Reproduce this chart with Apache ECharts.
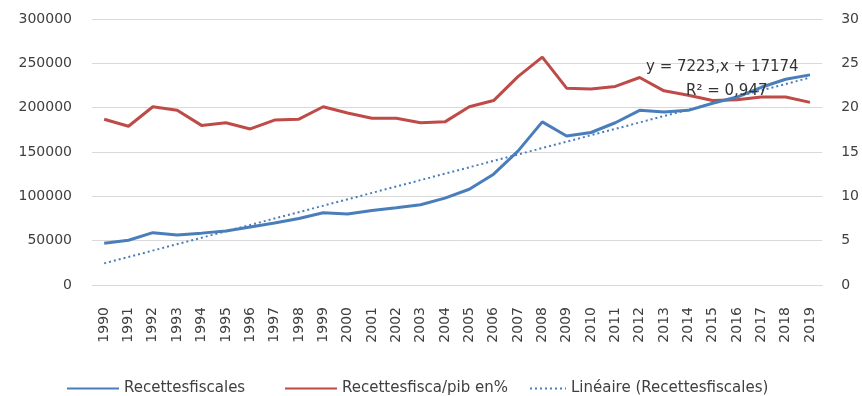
<!DOCTYPE html>
<html>
<head>
<meta charset="UTF-8">
<script src="https://cdn.jsdelivr.net/npm/echarts@6/dist/echarts.min.js"></script>
<style>
html, body { margin: 0; padding: 0; background: #fff; }
#main { width: 862px; height: 396px; }
</style>
</head>
<body>
<div id="main"></div>
<script>
// années
var years = ['1990','1991','1992','1993','1994','1995','1996','1997','1998','1999',
	'2000','2001','2002','2003','2004','2005','2006','2007','2008','2009',
	'2010','2011','2012','2013','2014','2015','2016','2017','2018','2019'];
// Recettesfiscales (axe gauche)
var recettes = [47000, 50500, 59000, 56500, 58500, 61000, 65500, 70000, 75000, 81500,
	80000, 84000, 87000, 90500, 98000, 108000, 125000, 151000, 184000, 168000,
	172000, 183000, 197000, 195000, 197000, 205000, 212000, 223000, 232000, 237000];
// Recettesfisca/pib en% (axe droit)
var pibPct = [18.7, 17.9, 20.1, 19.7, 18.0, 18.3, 17.6, 18.6, 18.7, 20.1,
	19.4, 18.8, 18.8, 18.3, 18.4, 20.1, 20.8, 23.5, 25.7, 22.2,
	22.1, 22.4, 23.4, 21.9, 21.4, 20.8, 20.9, 21.2, 21.2, 20.6];
// tendance linéaire : points de début et de fin
var trendPoints = [['1990', 24400], ['2019', 233900]];
var leftTicks = { min: 0, max: 300000, interval: 50000 };
var rightTicks = { min: 0, max: 30, interval: 5 };
var eqText = 'y = 7223,x + 17174';
var r2Text = 'R² = 0,947';

var font = 'DejaVu Sans';
var txt = '#404040';
var chart = echarts.init(document.getElementById('main'));
var legendText = { fontSize: 15, color: txt, fontFamily: font };
var option = {
	animation: false,
	textStyle: { fontFamily: font },
	grid: { left: 92, right: 33, top: 19, bottom: 111 },
	legend: [
		{ data: ['Recettesfiscales'], left: 61, top: 376, itemWidth: 52, itemHeight: 14,
			itemStyle: { opacity: 0 }, textStyle: legendText },
		{ data: ['Recettesfisca/pib en%'], left: 279, top: 376, itemWidth: 52, itemHeight: 14,
			itemStyle: { opacity: 0 }, textStyle: legendText },
		{ data: ['Linéaire (Recettesfiscales)'], left: 524, top: 376, itemWidth: 36, itemHeight: 14,
			itemStyle: { opacity: 0 }, textStyle: legendText }
	],
	xAxis: {
		type: 'category',
		data: years,
		boundaryGap: true,
		axisLine: { lineStyle: { color: '#d9d9d9' } },
		axisTick: { show: false },
		axisLabel: { rotate: 90, margin: 22, fontSize: 14, color: txt, fontFamily: font, interval: 0 }
	},
	yAxis: [
		{
			type: 'value', min: leftTicks.min, max: leftTicks.max, interval: leftTicks.interval,
			axisLine: { show: false }, axisTick: { show: false },
			splitLine: { lineStyle: { color: '#d9d9d9' } },
			axisLabel: { margin: 20, fontSize: 14, color: txt, fontFamily: font,
				formatter: function (v) { return String(v); } }
		},
		{
			type: 'value', min: rightTicks.min, max: rightTicks.max, interval: rightTicks.interval,
			axisLine: { show: false }, axisTick: { show: false },
			splitLine: { show: false },
			axisLabel: { margin: 19, fontSize: 14, color: txt, fontFamily: font,
				formatter: function (v) { return String(v); } }
		}
	],
	series: [
		{
			name: 'Recettesfiscales', type: 'line', data: recettes, yAxisIndex: 0,
			symbol: 'none', lineStyle: { color: '#4a7ebb', width: 3 }, itemStyle: { color: '#4a7ebb' }, z: 3
		},
		{
			name: 'Recettesfisca/pib en%', type: 'line', data: pibPct, yAxisIndex: 1,
			symbol: 'none', lineStyle: { color: '#be4b48', width: 3 }, itemStyle: { color: '#be4b48' }, z: 2
		},
		{
			name: 'Linéaire (Recettesfiscales)', type: 'line', data: trendPoints, yAxisIndex: 0,
			symbol: 'none', lineStyle: { color: '#4a7ebb', width: 2, type: [2, 3] }, itemStyle: { color: '#4a7ebb' }, z: 4
		}
	],
	graphic: [
		{ type: 'text', left: 646, top: 60, z: 10,
			style: { text: eqText, font: '15px ' + font, fill: '#333' } },
		{ type: 'text', left: 686, top: 84, z: 10,
			style: { text: r2Text, font: '15px ' + font, fill: '#333' } }
	]
};
chart.setOption(option);
</script>
</body>
</html>
